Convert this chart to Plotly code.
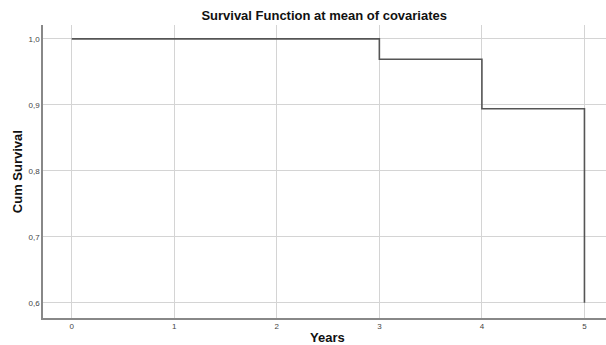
import plotly.graph_objects as go

years = [0, 3, 4, 5]
cum_survival = [1.0, 0.969, 0.894, 0.6]
x_ticks = [0, 1, 2, 3, 4, 5]
y_ticks = [0.6, 0.7, 0.8, 0.9, 1.0]

fig = go.Figure()
fig.add_trace(go.Scatter(
    x=years, y=cum_survival, mode="lines", line_shape="hv",
    line=dict(color="#555555", width=1.6), showlegend=False,
))

fig.update_layout(
    width=606, height=345,
    margin=dict(l=43, r=0, t=25, b=27),
    paper_bgcolor="white", plot_bgcolor="white",
    separators=",.",
    font=dict(family="Liberation Sans, Arial, sans-serif", color="#333333"),
    title=dict(text="<b>Survival Function at mean of covariates</b>",
               x=0.535, xanchor="center", y=0.955, yanchor="middle",
               font=dict(size=13, color="#111111")),
    annotations=[
        dict(text="<b>Years</b>", xref="paper", yref="paper", x=0.505, y=-0.068,
             xanchor="center", yanchor="middle", showarrow=False,
             font=dict(size=13, color="#111111")),
        dict(text="<b>Cum Survival</b>", xref="paper", yref="paper", x=-0.045, y=0.5,
             xanchor="center", yanchor="middle", textangle=-90, showarrow=False,
             font=dict(size=13, color="#111111")),
    ],
)
fig.update_xaxes(
    range=[-0.28, 5.21], tickvals=x_ticks, ticktext=[str(v) for v in x_ticks],
    showgrid=True, gridcolor="#d4d4d4", gridwidth=1,
    showline=True, linecolor="#888888", linewidth=1.5,
    zeroline=False, tickfont=dict(size=8, color="#444444"),
    ticks="", ticklen=0, automargin=False,
)
fig.update_yaxes(
    range=[0.577, 1.021], tickvals=y_ticks, tickformat=".1f",
    showgrid=True, gridcolor="#d4d4d4", gridwidth=1,
    showline=True, linecolor="#888888", linewidth=1.5,
    zeroline=False, tickfont=dict(size=8, color="#444444"),
    ticks="", ticklen=0, automargin=False,
)

fig.write_html("out.html", config={"displayModeBar": False},
               post_script="document.body.style.margin='0';")
